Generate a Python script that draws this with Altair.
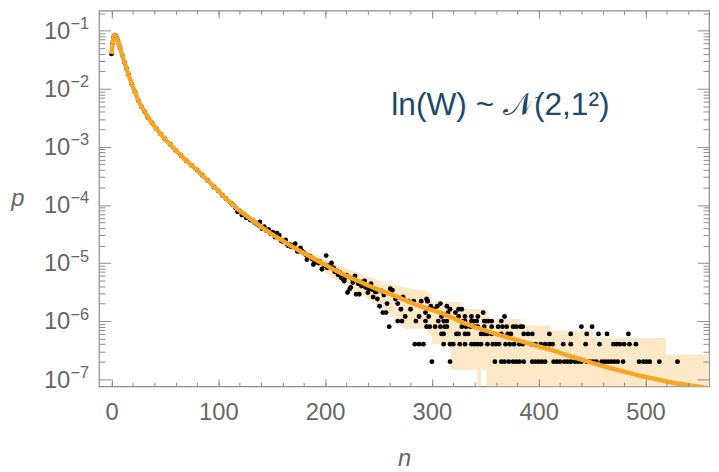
import altair as alt
import pandas as pd

# ---- theoretical curve ----
curve_n = [0, 1, 2, 3, 4, 5, 6, 7, 8, 10, 12, 14, 16, 19, 22, 25, 28, 31, 34.5, 38, 42, 46, 50,
           55, 60, 65, 70, 75, 80, 85, 90, 96, 100, 107, 112, 118, 125, 133, 141, 149, 157, 165,
           172, 180, 190, 200, 210, 220, 230, 241, 250, 260, 270, 280, 288, 300, 310, 318, 330,
           340, 350, 365, 380, 395, 405, 414, 425, 436, 450, 467, 482, 497, 512, 528, 545, 560]
curve_p = [0.0398, 0.0603, 0.0776, 0.0832, 0.0813, 0.0741, 0.0661, 0.0575, 0.0501, 0.0380,
           0.0288, 0.0224, 0.0174, 0.0120, 0.0087, 0.0063, 0.0049, 0.0040, 0.00316, 0.00257,
           0.00204, 0.00166, 0.00135, 0.00110, 8.7e-4, 7.1e-4, 5.75e-4, 4.8e-4, 4.0e-4, 3.24e-4,
           2.63e-4, 2.04e-4, 1.74e-4, 1.29e-4, 1.07e-4, 8.5e-5, 6.8e-5, 5.25e-5, 4.07e-5, 3.24e-5,
           2.63e-5, 2.14e-5, 1.78e-5, 1.48e-5, 1.17e-5, 9.3e-6, 7.4e-6, 6.0e-6, 5.0e-6, 4.07e-6,
           3.47e-6, 2.95e-6, 2.51e-6, 2.09e-6, 1.84e-6, 1.55e-6, 1.35e-6, 1.17e-6, 9.3e-7, 7.9e-7,
           6.9e-7, 5.6e-7, 4.7e-7, 3.9e-7, 3.47e-7, 3.09e-7, 2.63e-7, 2.29e-7, 1.9e-7, 1.55e-7,
           1.32e-7, 1.12e-7, 9.8e-8, 8.5e-8, 7.6e-8, 6.9e-8]

# ---- confidence band ----
band_n = [118, 150, 180, 210, 241, 263, 275, 294, 300, 300, 318, 318, 328, 328, 342.5, 342.5,
          346, 346, 351, 351, 352.4, 352.4, 383.3, 383.3, 411, 411, 451, 451, 519, 519, 565]
band_lo = [7.6e-5, 2.85e-5, 1.25e-5, 5.2e-6, 2.4e-6, 1.24e-6, 7.4e-7, 7.4e-7, 5.3e-7, 4.0e-7,
           4.0e-7, 1.45e-7, 1.45e-7, 1.45e-7, 1.45e-7, 1e-9, 1e-9, 1.45e-7, 1.45e-7, 1e-9,
           1e-9, 1e-9, 1e-9, 1e-9, 1e-9, 1e-9, 1e-9, 1e-9, 1e-9, 1e-9, 1e-9]
band_hi = [8.9e-5, 3.6e-5, 1.75e-5, 9.4e-6, 5.7e-6, 4.3e-6, 3.8e-6, 3.3e-6, 2.83e-6, 2.13e-6,
           2.13e-6, 2.13e-6, 2.13e-6, 1.62e-6, 1.62e-6, 1.62e-6, 1.62e-6, 1.62e-6, 1.62e-6,
           1.62e-6, 1.62e-6, 1.09e-6, 1.09e-6, 8.4e-7, 8.4e-7, 6.9e-7, 6.9e-7, 5.1e-7, 5.1e-7,
           2.67e-7, 2.67e-7]

body_n = [0, 1, 2, 3, 4, 5, 6, 7, 8, 10, 12, 14, 16, 19, 22, 25, 28, 31, 34, 38, 42, 46, 50, 55,
          60, 65, 70, 75, 80, 85, 90, 96, 100, 104, 107, 112]
body_p = [0.0398, 0.060, 0.0776, 0.0832, 0.0813, 0.0741, 0.0661, 0.0575, 0.0501, 0.0380, 0.0288,
          0.0224, 0.0174, 0.0120, 0.0087, 0.0063, 0.0049, 0.0040, 0.0032, 0.00257, 0.00204,
          0.00166, 0.00135, 0.00110, 8.7e-4, 7.1e-4, 5.75e-4, 4.8e-4, 4.0e-4, 3.24e-4, 2.63e-4,
          2.04e-4, 1.74e-4, 1.45e-4, 1.29e-4, 1.07e-4]
near_n = [114, 116, 120, 124, 128, 132, 136, 138, 141, 145, 149, 153, 159, 162, 165, 168, 176,
          178, 182, 185, 188, 192, 195, 199, 202, 205, 209, 212, 214, 219, 225, 231, 235, 238,
          244, 248, 253]
near_p = [1.0e-4, 8.9e-5, 7.9e-5, 6.9e-5, 6.0e-5, 5.4e-5, 4.7e-5, 4.4e-5, 3.9e-5, 3.6e-5,
          3.2e-5, 2.8e-5, 2.4e-5, 2.35e-5, 2.0e-5, 1.9e-5, 1.6e-5, 1.62e-5, 1.38e-5, 1.32e-5,
          1.17e-5, 1.1e-5, 1.05e-5, 8.9e-6, 8.3e-6, 8.7e-6, 7.1e-6, 6.3e-6, 6.8e-6, 5.6e-6,
          5.4e-6, 4.4e-6, 4.7e-6, 3.8e-6, 3.5e-6, 3.2e-6, 3.3e-6]
scatter_n = [118, 122, 126, 130, 134, 139, 143, 147, 151, 155, 157, 160, 163, 167, 170, 172, 174,
             177, 180, 183, 186, 189, 190, 194, 197, 201, 203, 206, 208, 211, 213, 215, 217, 218,
             220, 221, 223, 224, 226, 228, 229, 232, 234, 237, 240, 241, 243, 245, 247, 249, 251,
             254, 255, 257, 258, 260, 261, 263, 266, 268, 271, 273, 275, 278, 280, 283, 288, 290,
             294, 296]
scatter_p = [7.6e-5, 6.7e-5, 6.0e-5, 5.5e-5, 5.0e-5, 5.1e-5, 4.2e-5, 3.8e-5, 3.4e-5, 3.27e-5,
             3.0e-5, 2.35e-5, 2.5e-5, 2.06e-5, 2.0e-5, 2.15e-5, 1.58e-5, 1.82e-5, 1.5e-5, 1.15e-5,
             1.3e-5, 9.4e-6, 1.0e-5, 1.0e-5, 7.8e-6, 1.34e-5, 9.0e-6, 1.0e-5, 8.2e-6, 7.3e-6,
             6.8e-6, 5.6e-6, 5.2e-6, 4.9e-6, 6.2e-6, 3.1e-6, 3.55e-6, 3.8e-6, 4.6e-6, 6.0e-6,
             2.9e-6, 2.9e-6, 4.0e-6, 4.9e-6, 3.1e-6, 3.6e-6, 4.4e-6, 2.6e-6, 3.2e-6, 2.4e-6,
             1.8e-6, 1.4e-6, 2.8e-6, 1.4e-6, 2.0e-6, 8e-7, 3.6e-6, 3.4e-6, 2.4e-6, 2.0e-6,
             1.6e-6, 2.6e-6, 1.2e-6, 2.2e-6, 1.6e-6, 2.2e-6, 1.2e-6, 2.2e-6, 1.4e-6, 2.2e-6]
# tail: n values of points sitting on each count level (level k -> p = k * unit)
tail_unit = 2e-7
tail_levels = {
    1: [300, 317, 359, 365, 368, 372, 376, 379, 382, 386, 394, 397, 400, 403, 406, 414, 417, 420,
        424, 427, 430, 434, 437, 440, 445, 448, 451, 454, 459, 462, 465, 468, 471, 474, 479, 494,
        498, 501, 504, 513, 530],
    2: [284, 288, 292, 311, 317, 320, 326, 331, 337, 340, 343, 346, 352, 357, 360, 363, 369, 373,
        377, 382, 385, 393, 397, 402, 406, 410, 413, 423, 430, 444, 457, 470, 473, 476, 480, 485,
        491],
    3: [309, 311, 323, 325, 331, 334, 346, 349, 352, 356, 365, 371, 374, 386, 390, 394, 410, 430,
        445, 456, 464, 484],
    4: [295, 298, 303, 308, 312, 314, 328, 332, 336, 340, 343, 349, 356, 362, 366, 370, 376, 379,
        383, 385, 440, 450],
    5: [268, 272, 285, 294, 306, 311, 314, 329, 331, 337, 339, 342, 349, 351, 353, 356, 365],
    6: [297, 309, 325, 331, 337, 343, 368],
    7: [315, 322, 348],
    8: [302, 317, 325, 328],
    9: [299, 305, 314],
    10: [308],
    11: [296],
    12: [295],
}

# ---- ticks / labels ----
x_major = [0, 100, 200, 300, 400, 500]
x_minor = list(range(0, 560, 20))
y_major = [1e-7, 1e-6, 1e-5, 1e-4, 1e-3, 1e-2, 1e-1]
y_exponents = ["−7", "−6", "−5", "−4", "−3", "−2", "−1"]
y_minor = [m * 10.0 ** e for e in range(-7, 0) for m in range(2, 10)]
annot_text = ["ln(W) ~ 𝒩(2,1²)"]
annot_n = [262]
annot_p = [3.54e-3]

# ---- tables ----
curve_df = pd.DataFrame({"n": curve_n, "p": curve_p})
band_df = pd.DataFrame({"n": band_n, "lo": band_lo, "hi": band_hi})
rows = [{"n": a, "p": b} for a, b in zip(body_n, body_p)]
rows += [{"n": a, "p": b} for a, b in zip(near_n, near_p)]
rows += [{"n": a, "p": b} for a, b in zip(scatter_n, scatter_p)]
for k, ns in tail_levels.items():
    rows += [{"n": a, "p": k * tail_unit} for a in ns]
dots_df = pd.DataFrame(rows)
annot_df = pd.DataFrame({"n": annot_n, "p": annot_p, "label": annot_text})

GRAY = "#8c8c8c"
LABEL = "#666666"
FONT = "Liberation Sans"
ORANGE = "#f6a623"
BAND = "#fce7c6"
TEXTC = "#1e4a6a"
FS = 24


def xs():
    return alt.Scale(domain=[-11.76, 559.5], nice=False, zero=False)


def ys():
    return alt.Scale(type="log", domain=[7.52e-8, 0.2216], nice=False)


def tick_axis(orient, values, size):
    return alt.Axis(orient=orient, values=values, labels=False, domain=False, grid=False,
                    ticks=True, tickSize=size, tickColor=GRAY, tickWidth=1, offset=-size,
                    title=None, zindex=1)


exp_expr = "[" + ",".join("'%s'" % s for s in y_exponents) + "][round(log(datum.value)/LN10)+7]"

x_lab = alt.Axis(orient="bottom", values=x_major, format="d", labelFont=FONT, labelFontSize=FS,
                 labelColor=LABEL, labelPadding=34, labelBaseline="alphabetic", ticks=False,
                 tickSize=0, domain=False, grid=False, labelFlush=False, labelOverlap=False,
                 title="n", titleFont=FONT, titleFontSize=FS, titleFontStyle="italic",
                 titleFontWeight="normal", titleColor=LABEL, titleY=80,
                 titleBaseline="alphabetic")
# "10" part of the y labels
y_lab = alt.Axis(orient="left", values=y_major, labelExpr="'10'", labelFont=FONT,
                 labelFontSize=FS, labelColor=LABEL, labelPadding=29.5, labelAlign="right",
                 labelOffset=1, ticks=False, tickSize=0, domain=False, grid=False,
                 labelFlush=False, labelOverlap=False,
                 title="p", titleFont=FONT, titleFontSize=FS, titleFontStyle="italic",
                 titleFontWeight="normal", titleColor=LABEL, titleAngle=0, titleX=-82.5,
                 titleY=197.3, titleAlign="center", titleBaseline="alphabetic")
# exponent part of the y labels
y_exp = alt.Axis(orient="left", values=y_major, labelExpr=exp_expr, labelFont=FONT,
                 labelFontSize=16.5, labelColor=LABEL, labelPadding=10.5, labelAlign="right",
                 labelOffset=-7, ticks=False, tickSize=0, domain=False, grid=False,
                 labelFlush=False, labelOverlap=False, title=None)

band = alt.Chart(band_df).mark_area(color=BAND, opacity=1, clip=True).encode(
    x=alt.X("n:Q", scale=xs(), axis=x_lab),
    y=alt.Y("lo:Q", scale=ys(), axis=y_lab),
    y2="hi:Q",
)
dots = alt.Chart(dots_df).mark_circle(color="black", size=24, opacity=1, clip=True).encode(
    x=alt.X("n:Q", scale=xs(), axis=tick_axis("bottom", x_major, 7.5)),
    y=alt.Y("p:Q", scale=ys(), axis=tick_axis("left", y_major, 12)),
)
line = alt.Chart(curve_df).mark_line(color=ORANGE, strokeWidth=4.5, clip=True).encode(
    x=alt.X("n:Q", scale=xs(), axis=tick_axis("bottom", x_minor, 4)),
    y=alt.Y("p:Q", scale=ys(), axis=tick_axis("left", y_minor, 6)),
)
text = alt.Chart(annot_df).mark_text(align="left", baseline="alphabetic", font=FONT,
                                     fontSize=32, color=TEXTC).encode(
    x=alt.X("n:Q", scale=xs(), axis=tick_axis("top", x_major, 7.5)),
    y=alt.Y("p:Q", scale=ys(), axis=tick_axis("right", y_major, 12)),
    text="label:N",
)
ghost = alt.Chart(dots_df).mark_point(opacity=0).encode(
    x=alt.X("n:Q", scale=xs(), axis=tick_axis("top", x_minor, 4)),
    y=alt.Y("p:Q", scale=ys(), axis=tick_axis("right", y_minor, 6)),
)
ghost2 = alt.Chart(dots_df).mark_point(opacity=0).encode(
    x=alt.X("n:Q", scale=xs(), axis=None),
    y=alt.Y("p:Q", scale=ys(), axis=y_exp),
)

chart = alt.layer(band, dots, line, text, ghost, ghost2).resolve_axis(
    x="independent", y="independent"
).properties(
    width=617, height=380,
    padding={"left": 92, "top": 0, "right": 2, "bottom": 84},
    autosize="none",
).configure_view(stroke=GRAY, strokeWidth=1.2)

chart.save("out.html", embed_options={"renderer": "svg", "actions": False})
